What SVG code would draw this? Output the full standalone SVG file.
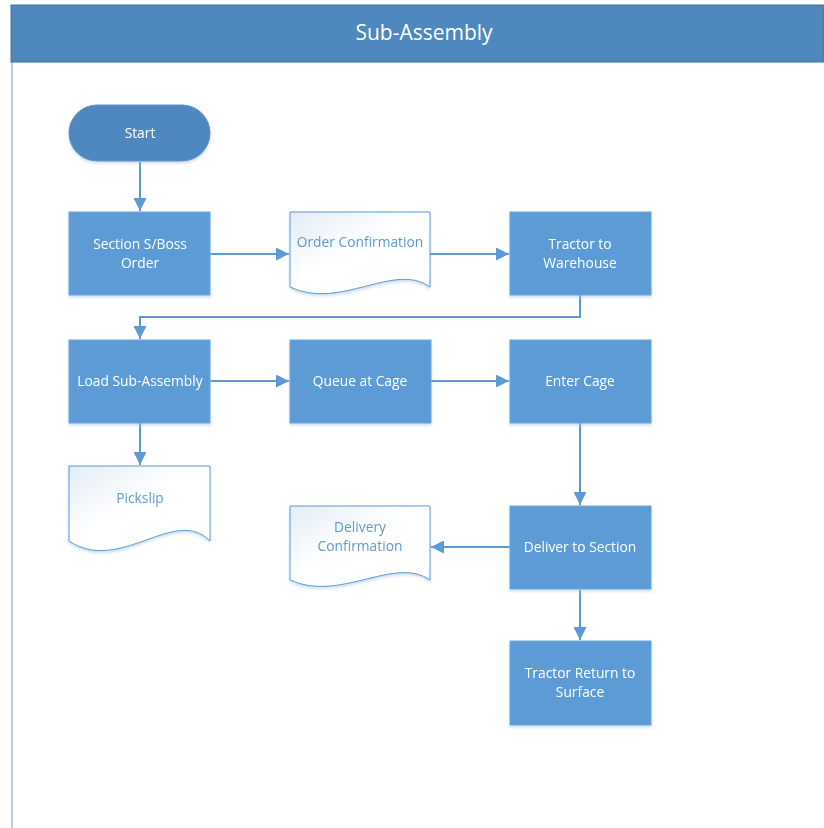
<svg xmlns="http://www.w3.org/2000/svg" width="824" height="828" viewBox="0 0 824 828">
<style>
.box{fill:#5b9bd5;stroke:#6fa8dc;stroke-width:1}
.doc{fill:url(#dg);stroke:#5b9bd5;stroke-width:1}
.wt{font-family:"Open Sans","Noto Sans",sans-serif;font-size:13.8px;fill:#ffffff;text-anchor:middle}
.bt{font-family:"Open Sans","Noto Sans",sans-serif;font-size:13.8px;fill:#5b9bd5;text-anchor:middle}
.c{fill:none;stroke:#5b9bd5;stroke-width:2;marker-end:url(#ah)}
</style>
<defs>
<linearGradient id="dg" x1="0" y1="0" x2="1" y2="1">
<stop offset="0" stop-color="#e3ecf6"/>
<stop offset="0.45" stop-color="#ffffff"/>
<stop offset="1" stop-color="#ffffff"/>
</linearGradient>
<filter id="sh" x="-10%" y="-10%" width="120%" height="130%">
<feDropShadow dx="0" dy="2" stdDeviation="1.5" flood-color="#9dbbe0" flood-opacity="0.5"/>
</filter>
<marker id="ah" viewBox="0 0 10 10" refX="10" refY="5" markerWidth="6.5" markerHeight="6.5" orient="auto" markerUnits="strokeWidth">
<path d="M0,0 L10,5 L0,10 Z" fill="#5b9bd5"/>
</marker>
</defs>
<rect width="824" height="828" fill="#ffffff"/>
<g id="pool">
<line x1="12" y1="62" x2="12" y2="828" stroke="#9fb8d6" stroke-width="1.5"/>
<rect x="11" y="5" width="813" height="57" fill="#4e88be" stroke="#41729f" stroke-width="1"/>
<text x="424" y="40" font-family="'Open Sans','Noto Sans',sans-serif" font-size="21" fill="#ffffff" text-anchor="middle">Sub-Assembly</text>
</g>
<g id="connectors">
<path class="c" d="M140,162 V211"/>
<path class="c" d="M210,254 H289"/>
<path class="c" d="M430,254 H509"/>
<path class="c" d="M580,295 V317 H140 V339"/>
<path class="c" d="M210,381 H289"/>
<path class="c" d="M430,381 H509"/>
<path class="c" d="M140,423 V465"/>
<path class="c" d="M580,423 V505"/>
<path class="c" d="M510,547 H431"/>
<path class="c" d="M580,590 V640"/>
</g>
<g id="start" filter="url(#sh)">
<rect x="69" y="105" width="141" height="56" rx="28" fill="#4f88c0" stroke="#5a93c8"/>
<text class="wt" x="140" y="138">Start</text>
</g>
<g id="section" filter="url(#sh)">
<rect class="box" x="69" y="212" width="141" height="83"/>
<text class="wt" x="140" y="249">Section S/Boss</text>
<text class="wt" x="140" y="268">Order</text>
</g>
<g id="orderconf" filter="url(#sh)">
<path class="doc" d="M290,212 H430 V287 C395,261 340,311 290,287 Z"/>
<text class="bt" x="360" y="247">Order Confirmation</text>
</g>
<g id="tractor" filter="url(#sh)">
<rect class="box" x="510" y="212" width="141" height="83"/>
<text class="wt" x="580" y="249">Tractor to</text>
<text class="wt" x="580" y="268">Warehouse</text>
</g>
<g id="load" filter="url(#sh)">
<rect class="box" x="69" y="340" width="141" height="83"/>
<text class="wt" x="140" y="386">Load Sub-Assembly</text>
</g>
<g id="queue" filter="url(#sh)">
<rect class="box" x="290" y="340" width="141" height="83"/>
<text class="wt" x="360" y="386">Queue at Cage</text>
</g>
<g id="enter" filter="url(#sh)">
<rect class="box" x="510" y="340" width="141" height="83"/>
<text class="wt" x="580" y="386">Enter Cage</text>
</g>
<g id="pickslip" filter="url(#sh)">
<path class="doc" d="M69,466 H210 V541 C175,505 120,575 69,541 Z"/>
<text class="bt" x="140" y="503">Pickslip</text>
</g>
<g id="deliveryconf" filter="url(#sh)">
<path class="doc" d="M290,506 H430 V580 C395,555 340,603 290,580 Z"/>
<text class="bt" x="360" y="532">Delivery</text>
<text class="bt" x="360" y="551">Confirmation</text>
</g>
<g id="deliver" filter="url(#sh)">
<rect class="box" x="510" y="506" width="141" height="83"/>
<text class="wt" x="580" y="552">Deliver to Section</text>
</g>
<g id="return" filter="url(#sh)">
<rect class="box" x="510" y="641" width="141" height="84"/>
<text class="wt" x="580" y="678">Tractor Return to</text>
<text class="wt" x="580" y="697">Surface</text>
</g>
</svg>
